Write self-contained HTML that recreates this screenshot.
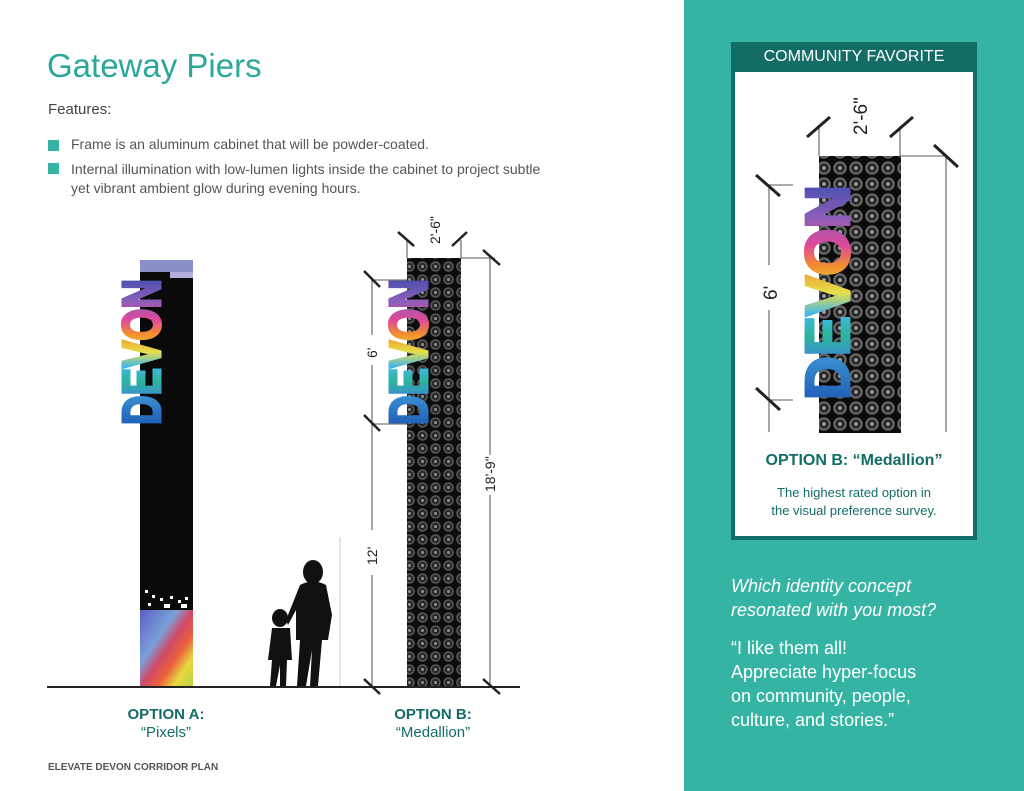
<!DOCTYPE html>
<html><head><meta charset="utf-8"><style>
body{margin:0;width:1024px;height:791px;overflow:hidden;background:#fff;font-family:"Liberation Sans",sans-serif;position:relative}
.a{position:absolute;white-space:nowrap}
</style></head><body>
<svg width="1024" height="791" style="position:absolute;left:0;top:0">
<defs>
<pattern id="med" width="13" height="13" patternUnits="userSpaceOnUse">
<rect width="13" height="13" fill="#0c0c0c"/>
<circle cx="6.5" cy="6.5" r="5.3" fill="#555"/>
<circle cx="6.5" cy="6.5" r="3.5" fill="#222"/>
<circle cx="6.5" cy="6.5" r="1.6" fill="#888"/>
</pattern>
<pattern id="med2" width="16" height="16" patternUnits="userSpaceOnUse">
<rect width="16" height="16" fill="#0c0c0c"/>
<circle cx="8" cy="8" r="6.8" fill="#666"/>
<circle cx="8" cy="8" r="4.5" fill="#222"/>
<circle cx="8" cy="8" r="2" fill="#999"/>
</pattern>
<linearGradient id="dv" x1="0" y1="0" x2="1" y2="0">
<stop offset="0" stop-color="#1f5fb8"/><stop offset="0.2" stop-color="#3a8fd0"/>
<stop offset="0.3" stop-color="#2bb59c"/><stop offset="0.4" stop-color="#45b6e8"/>
<stop offset="0.5" stop-color="#e6e04a"/><stop offset="0.62" stop-color="#f2902c"/>
<stop offset="0.72" stop-color="#e0489a"/><stop offset="0.85" stop-color="#8a5fb8"/>
<stop offset="1" stop-color="#4b4fb0"/>
</linearGradient>
<linearGradient id="px" x1="0" y1="0" x2="1" y2="1">
<stop offset="0" stop-color="#5a60c0"/><stop offset="0.35" stop-color="#7aa0d8"/>
<stop offset="0.5" stop-color="#d04a6a"/><stop offset="0.65" stop-color="#e9603a"/>
<stop offset="0.8" stop-color="#e8d840"/><stop offset="1" stop-color="#b8d040"/>
</linearGradient>
</defs>
<rect x="684" y="0" width="340" height="791" fill="#35b3a3"/>
<rect x="733" y="44" width="242" height="494" fill="#fff" stroke="#136d66" stroke-width="4"/>
<rect x="731" y="42" width="246" height="30" fill="#136d66"/>
<!-- pier A -->
<rect x="140" y="260" width="53" height="428" fill="#0a0a0a"/>
<rect x="140" y="260" width="53" height="12" fill="#8a8fc8"/>
<rect x="170" y="272" width="23" height="6" fill="#b0b0d8"/>
<rect x="140" y="610" width="53" height="78" fill="url(#px)"/>
<g fill="#fff"><rect x="145" y="590" width="3" height="3"/><rect x="152" y="595" width="3" height="3"/><rect x="160" y="598" width="3" height="3"/><rect x="170" y="596" width="3" height="3"/><rect x="178" y="600" width="3" height="3"/><rect x="185" y="597" width="3" height="3"/><rect x="148" y="603" width="3" height="3"/><rect x="164" y="604" width="6" height="4"/><rect x="181" y="604" width="6" height="4"/></g>
<text transform="translate(160,425) rotate(-90)" font-family="Liberation Sans" font-weight="bold" font-size="54" textLength="146" lengthAdjust="spacingAndGlyphs" fill="url(#dv)" stroke="url(#dv)" stroke-width="3">DEVON</text>
<!-- pier B -->
<rect x="407" y="258" width="54" height="430" fill="url(#med)"/>
<text transform="translate(427,425) rotate(-90)" font-family="Liberation Sans" font-weight="bold" font-size="54" textLength="146" lengthAdjust="spacingAndGlyphs" fill="url(#dv)" stroke="url(#dv)" stroke-width="3">DEVON</text>
<line x1="47" y1="687" x2="520" y2="687" stroke="#222" stroke-width="2"/>
<g fill="#111">
<ellipse cx="313" cy="572" rx="10" ry="12"/>
<path d="M300 585 Q313 578 326 585 L332 615 L328 640 L322 640 L318 686 L310 686 L312 650 L306 686 L297 686 L300 640 L296 640 L296 610 L288 625 L286 620 Z"/>
<ellipse cx="280" cy="618" rx="8" ry="9"/>
<path d="M272 628 L290 628 L292 660 L287 660 L286 686 L280 686 L280 665 L276 686 L270 686 L272 660 L268 660 Z"/>
</g>
<line x1="340" y1="537" x2="340" y2="686" stroke="#ccc"/>
<g stroke="#222" fill="none">
<line x1="407" y1="258" x2="407" y2="240" stroke-width="0.8"/><line x1="461" y1="258" x2="461" y2="240" stroke-width="0.8"/>
<line x1="398" y1="232" x2="414" y2="246" stroke-width="2.5"/><line x1="452" y1="246" x2="467" y2="232" stroke-width="2.5"/>
<line x1="461" y1="258" x2="495" y2="258" stroke-width="0.8"/><line x1="490" y1="258" x2="490" y2="455" stroke-width="0.8"/><line x1="490" y1="495" x2="490" y2="688" stroke-width="0.8"/>
<line x1="483" y1="250" x2="500" y2="265" stroke-width="2.5"/><line x1="483" y1="679" x2="500" y2="694" stroke-width="2.5"/>
<line x1="371" y1="280" x2="407" y2="280" stroke-width="0.8"/><line x1="371" y1="424" x2="407" y2="424" stroke-width="0.8"/>
<line x1="372" y1="280" x2="372" y2="335" stroke-width="0.8"/><line x1="372" y1="365" x2="372" y2="530" stroke-width="0.8"/><line x1="372" y1="575" x2="372" y2="688" stroke-width="0.8"/>
<line x1="364" y1="271" x2="380" y2="287" stroke-width="2.5"/><line x1="364" y1="415" x2="380" y2="431" stroke-width="2.5"/><line x1="364" y1="679" x2="380" y2="694" stroke-width="2.5"/>
</g>
<g font-family="Liberation Sans" font-size="14" fill="#222">
<text transform="translate(440,244) rotate(-90)">2'-6"</text>
<text transform="translate(377,358) rotate(-90)">6'</text>
<text transform="translate(495,492) rotate(-90)">18'-9"</text>
<text transform="translate(377,565) rotate(-90)">12'</text>
</g>
<rect x="819" y="156" width="82" height="277" fill="url(#med2)"/>
<text transform="translate(849,400) rotate(-90)" font-family="Liberation Sans" font-weight="bold" font-size="62" textLength="215" lengthAdjust="spacingAndGlyphs" fill="url(#dv)" stroke="url(#dv)" stroke-width="3">DEVON</text>
<g stroke="#222" fill="none">
<line x1="819" y1="156" x2="819" y2="126" stroke-width="0.8"/><line x1="900" y1="156" x2="900" y2="126" stroke-width="0.8"/>
<line x1="807" y1="137" x2="830" y2="117" stroke-width="3"/><line x1="890" y1="137" x2="913" y2="117" stroke-width="3"/>
<line x1="900" y1="156" x2="948" y2="156" stroke-width="0.8"/><line x1="946" y1="156" x2="946" y2="432" stroke-width="0.8"/>
<line x1="934" y1="145" x2="958" y2="167" stroke-width="3"/>
<line x1="768" y1="185" x2="793" y2="185" stroke-width="0.8"/><line x1="768" y1="400" x2="793" y2="400" stroke-width="0.8"/>
<line x1="769" y1="185" x2="769" y2="265" stroke-width="0.8"/><line x1="769" y1="310" x2="769" y2="432" stroke-width="0.8"/>
<line x1="756" y1="175" x2="780" y2="196" stroke-width="3"/><line x1="756" y1="388" x2="780" y2="410" stroke-width="3"/>
</g>
<g font-family="Liberation Sans" font-size="19" fill="#222">
<text transform="translate(867,135) rotate(-90)">2'-6"</text>
<text transform="translate(777,300) rotate(-90)">6'</text>
</g>
<rect x="48" y="140" width="11" height="11" fill="#35b3a3"/>
<rect x="48" y="163" width="11" height="11" fill="#35b3a3"/>
</svg>
<div class="a" style="left:47px;top:47px;font-size:33px;color:#2aa89a">Gateway Piers</div>
<div class="a" style="left:48px;top:101px;font-size:15px;color:#444">Features:</div>
<div class="a" style="left:71px;top:136px;font-size:14px;color:#555">Frame is an aluminum cabinet that will be powder-coated.</div>
<div class="a" style="left:71px;top:160px;font-size:14px;color:#555;line-height:19px">Internal illumination with low-lumen lights inside the cabinet to project subtle<br>yet vibrant ambient glow during evening hours.</div>
<div class="a" style="left:100px;top:706px;width:132px;text-align:center;font-size:15px;font-weight:bold;color:#136d66;line-height:18px">OPTION A:<br><span style="font-weight:normal">“Pixels”</span></div>
<div class="a" style="left:368px;top:706px;width:130px;text-align:center;font-size:15px;font-weight:bold;color:#136d66;line-height:18px">OPTION B:<br><span style="font-weight:normal">“Medallion”</span></div>
<div class="a" style="left:48px;top:762px;font-size:10px;font-weight:bold;color:#555">ELEVATE DEVON CORRIDOR PLAN</div>
<div class="a" style="left:731px;top:48px;width:246px;text-align:center;font-size:16px;color:#fff">COMMUNITY FAVORITE</div>
<div class="a" style="left:731px;top:452px;width:246px;text-align:center;font-size:16px;font-weight:bold;color:#136d66">OPTION B: “Medallion”</div>
<div class="a" style="left:731px;top:484px;width:246px;text-align:center;font-size:13px;color:#136d66;line-height:18px">The highest rated option in<br>the visual preference survey.</div>
<div class="a" style="left:731px;top:574px;font-size:18px;font-style:italic;color:#fff;line-height:24px">Which identity concept<br>resonated with you most?</div>
<div class="a" style="left:731px;top:636px;font-size:18px;color:#fff;line-height:24px">“I like them all!<br>Appreciate hyper-focus<br>on community, people,<br>culture, and stories.”</div>
</body></html>
